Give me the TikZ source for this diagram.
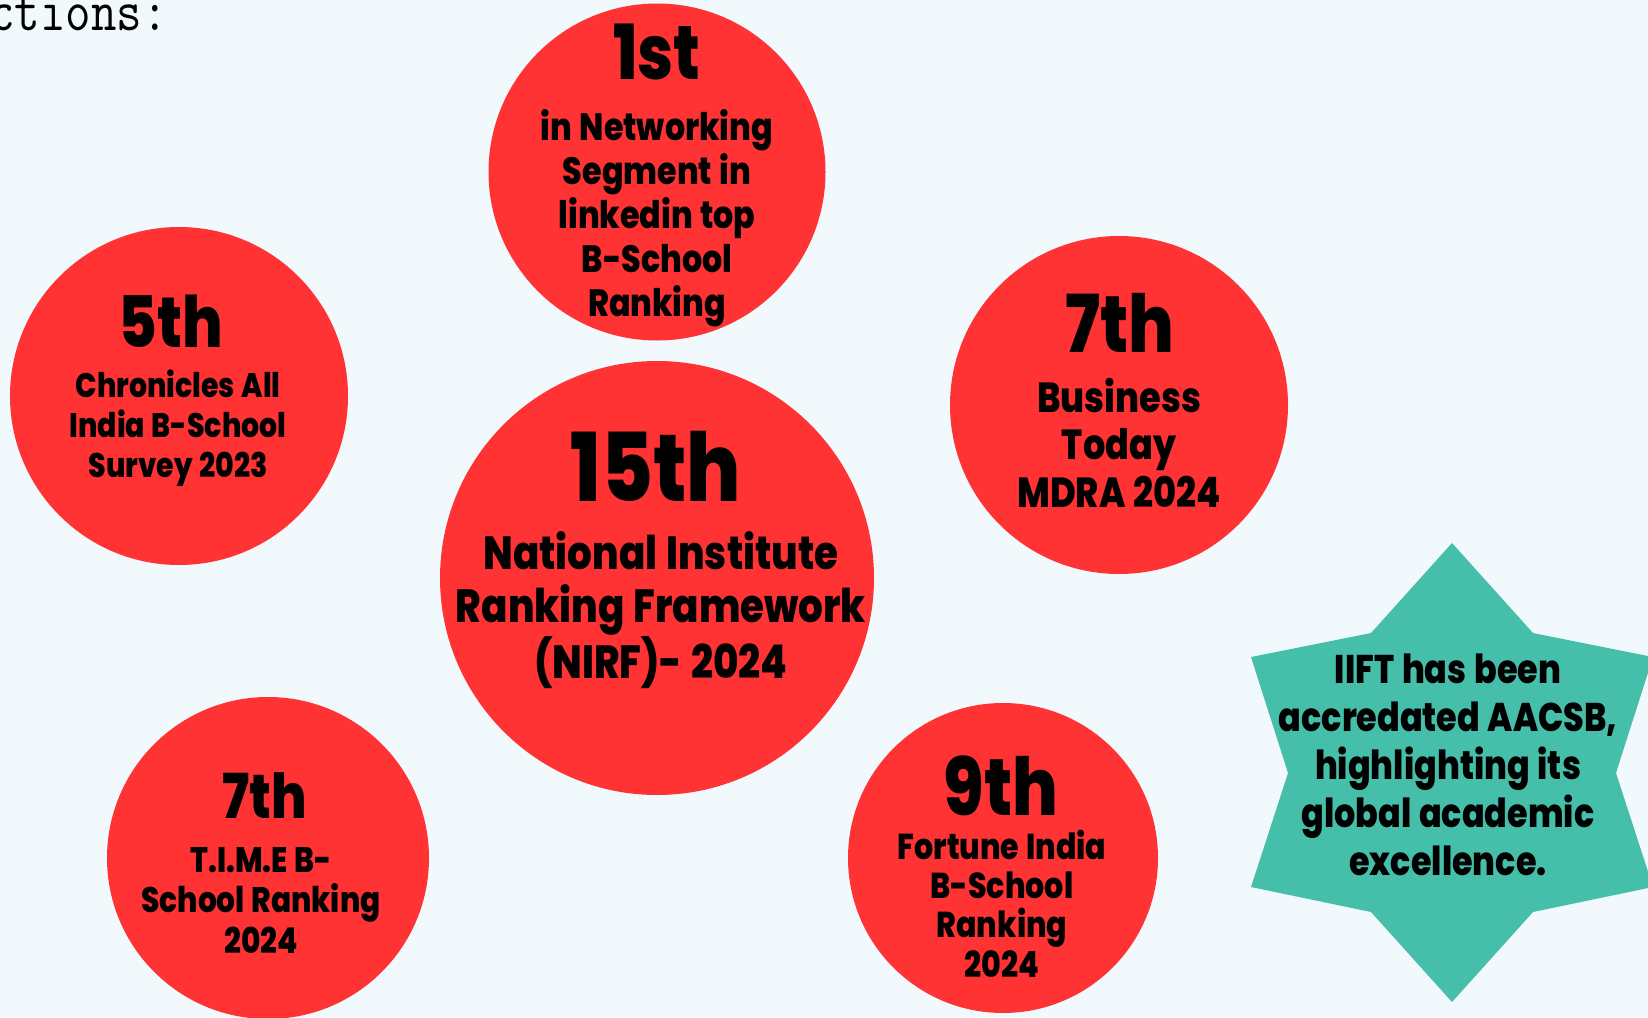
\documentclass[tikz,border=0pt]{standalone}
\usepackage{fontspec}
\setmainfont{Poppins}[FakeStretch=0.835, WordSpace=1.2, BoldFont={Poppins ExtraBold}]
\definecolor{bg}{HTML}{F2F9FC}
\definecolor{rk}{HTML}{FF3333}
\definecolor{tl}{HTML}{45BEAA}
\begin{document}
\begin{tikzpicture}[x=1pt,y=-1pt,
  disc/.style={circle, fill=rk, inner sep=0pt, minimum size=#1},
  num/.style={font=\fontsize{#1}{#1}\selectfont\bfseries, anchor=base, inner sep=0pt},
  body/.style 2 args={font=\fontsize{#1}{#2}\selectfont\bfseries, align=center, anchor=base, inner sep=0pt}]
\useasboundingbox (0,0) rectangle (1648,1017);
\clip (0,0) rectangle (1648,1017);
\fill[bg] (0,0) rectangle (1648,1017);
\node[anchor=base east, inner sep=0pt, font=\ttfamily\fontsize{49.5}{49.5}\selectfont] (hd) at (168,30) {\scalebox{1}[1.18]{ctions:}};
% circles
\node[disc=337] (c1) at (657,172) {};
\node[disc=338] (c5) at (179,396) {};
\node[disc=434] (c15) at (657,578) {};
\node[disc=338] (c7r) at (1119,405) {};
\node[disc=322] (c7l) at (268,858) {};
\node[disc=310] (c9) at (1003,858) {};
% star
\fill[tl] (1452,543) -- (1533,633) -- (1653,657) -- (1616,773) -- (1653,887) -- (1533,912) -- (1452,1002) -- (1371,912) -- (1251,887) -- (1288,773) -- (1251,657) -- (1371,633) -- cycle;
% texts
\node[num=76] (n1) at (657,79) {1st};
\node[body={38}{44}] (b1) at (657,316) {in Networking\\Segment in\\linkedin top\\B-School\\Ranking};
\node[num=71] (n5) at (171,347) {5th};
\node[body={34}{40}] (b5) at (178,477) {Chronicles All\\India B-School\\Survey 2023};
\node[num=95] (n15) at (656,501) {15th};
\node[body={46.5}{52.5}] (b15) at (661,678) {National Institute\\Ranking Framework\\(NIRF)- 2024};
\node[num=80] (n7r) at (1120,352) {7th};
\node[body={42}{47.5}] (b7r) at (1119,507) {Business\\Today\\MDRA 2024};
\node[num=62] (n7l) at (265,818) {7th};
\node[body={35.5}{40.5}] (b7l) at (261,953) {T.I.M.E B-\\School Ranking\\2024};
\node[num=80] (n9) at (1001,815) {9th};
\node[body={36}{39.3}] (b9) at (1002,977) {Fortune India\\B-School\\Ranking\\2024};
\node[body={40}{48}] (bs) at (1448,875) {IIFT has been\\accredated AACSB,\\highlighting its\\global academic\\excellence.};
\end{tikzpicture}
\end{document}
